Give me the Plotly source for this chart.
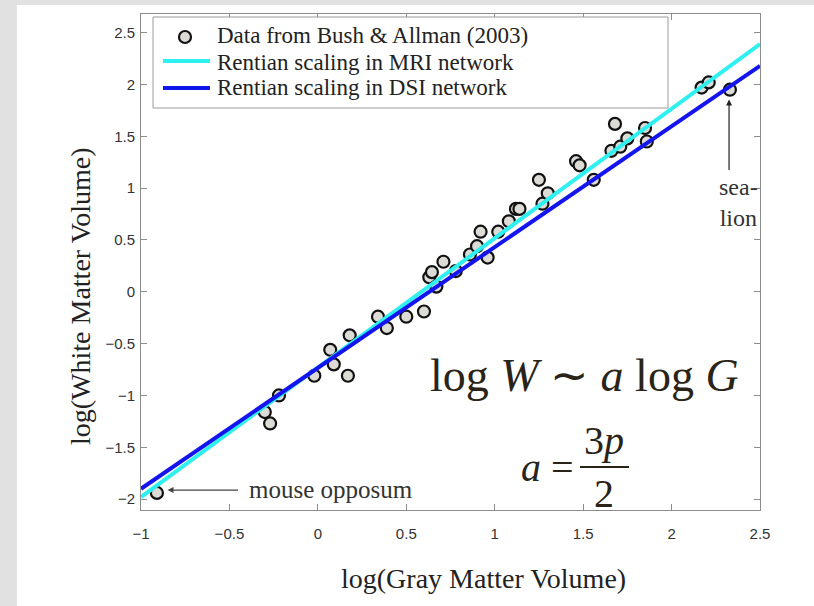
import plotly.graph_objects as go

# ---- data ----
gm = [-0.91, -0.30, -0.27, -0.22, -0.02, 0.07, 0.09, 0.17, 0.18, 0.34, 0.39, 0.50, 0.60,
      0.63, 0.645, 0.67, 0.71, 0.78, 0.86, 0.90, 0.92, 0.96, 1.02, 1.08, 1.12, 1.14, 1.27,
      1.30, 1.25, 1.46, 1.48, 1.56, 1.68, 1.66, 1.71, 1.75, 1.85, 1.86, 2.17, 2.21, 2.33]
wm = [-1.94, -1.16, -1.27, -1.00, -0.81, -0.56, -0.70, -0.81, -0.42, -0.24, -0.35, -0.24, -0.19,
      0.14, 0.19, 0.05, 0.29, 0.20, 0.36, 0.44, 0.58, 0.33, 0.58, 0.68, 0.80, 0.80, 0.85,
      0.95, 1.08, 1.26, 1.22, 1.08, 1.62, 1.36, 1.40, 1.48, 1.58, 1.45, 1.97, 2.02, 1.95]
fit_x = [-1.0, 2.5]
mri_y = [-1.98, 2.39]
dsi_y = [-1.90, 2.18]

legend_labels = ["Data from Bush & Allman (2003)",
                 "Rentian scaling in MRI network",
                 "Rentian scaling in DSI network"]
x_ticks = [-1, -0.5, 0, 0.5, 1, 1.5, 2, 2.5]
y_ticks = [-2, -1.5, -1, -0.5, 0, 0.5, 1, 1.5, 2, 2.5]

# ---- layout geometry (pixels) ----
W_FIG, H_FIG = 814, 606
L, R, T, B = 141, 760, 14, 510
def px(x):
    return (x - L) / (R - L)
def py(y):
    return (B - y) / (B - T)

SERIF = "Liberation Serif, Times New Roman, serif"
SANS = "Liberation Sans, Arial, sans-serif"
CYAN = "#2ff0f0"
BLUE = "#1414ee"
EQ = "#2a2418"

fig = go.Figure()
fig.add_trace(go.Scatter(x=gm, y=wm, mode="markers", name=legend_labels[0],
                         marker=dict(size=12, color="#dcdbd6",
                                     line=dict(color="#111111", width=2.2)),
                         showlegend=False))
fig.add_trace(go.Scatter(x=fit_x, y=mri_y, mode="lines", name=legend_labels[1],
                         line=dict(color=CYAN, width=4), showlegend=False))
fig.add_trace(go.Scatter(x=fit_x, y=dsi_y, mode="lines", name=legend_labels[2],
                         line=dict(color=BLUE, width=4), showlegend=False))

shapes = []
# grey page edges
shapes.append(dict(type="rect", xref="paper", yref="paper", layer="below",
                   x0=px(0), x1=px(17), y0=py(W_FIG), y1=py(0),
                   fillcolor="#e1e1e1", line=dict(width=0)))
shapes.append(dict(type="rect", xref="paper", yref="paper", layer="below",
                   x0=px(0), x1=px(W_FIG), y0=py(5), y1=py(0),
                   fillcolor="#e1e1e1", line=dict(width=0)))
# legend box
shapes.append(dict(type="rect", xref="paper", yref="paper", layer="above",
                   x0=px(153), x1=px(668), y0=py(108), y1=py(17),
                   fillcolor="white", line=dict(color="#9a9a9a", width=1)))
shapes.append(dict(type="circle", xref="paper", yref="paper", layer="above",
                   x0=px(179), x1=px(191), y0=py(43), y1=py(31),
                   fillcolor="#dcdbd6", line=dict(color="#111111", width=2.2)))
shapes.append(dict(type="line", xref="paper", yref="paper", layer="above",
                   x0=px(163), x1=px(210), y0=py(61), y1=py(61),
                   line=dict(color=CYAN, width=4)))
shapes.append(dict(type="line", xref="paper", yref="paper", layer="above",
                   x0=px(163), x1=px(210), y0=py(88), y1=py(88),
                   line=dict(color=BLUE, width=4)))
# fraction bar
shapes.append(dict(type="line", xref="paper", yref="paper", layer="above",
                   x0=px(580), x1=px(629), y0=py(467), y1=py(467),
                   line=dict(color=EQ, width=2)))

ann = []
for lab, yy in zip(legend_labels, [36, 62, 88]):
    ann.append(dict(text=lab, xref="paper", yref="paper", x=px(216), y=py(yy),
                    xanchor="left", yanchor="middle", showarrow=False, borderpad=0,
                    font=dict(family=SERIF, size=23, color="#222222")))
# mouse opposum
ann.append(dict(text="mouse opposum", xref="paper", yref="paper", x=px(247), y=py(489),
                xanchor="left", yanchor="middle", showarrow=False,
                font=dict(family=SERIF, size=25, color="#333333")))
ann.append(dict(text="", x=-0.85, y=-1.913, xref="x", yref="y", ax=72, ay=0,
                showarrow=True, arrowhead=2, arrowsize=1, arrowwidth=1.2,
                arrowcolor="#444444"))
# sea lion
ann.append(dict(text="sea-<br>lion", xref="paper", yref="paper", x=px(738), y=py(202),
                xanchor="center", yanchor="middle", showarrow=False, align="center",
                font=dict(family=SERIF, size=24, color="#333333")))
ann.append(dict(text="", x=2.325, y=1.855, xref="x", yref="y", ax=0, ay=72,
                showarrow=True, arrowhead=2, arrowsize=1, arrowwidth=1.2,
                arrowcolor="#222222"))
# equations
ann.append(dict(text="log <i>W</i> ∼ <i>a</i> log <i>G</i>", xref="paper", yref="paper",
                x=px(584), y=py(375), xanchor="center", yanchor="middle", showarrow=False,
                font=dict(family=SERIF, size=46, color=EQ)))
ann.append(dict(text="<i>a</i> =", xref="paper", yref="paper",
                x=px(576), y=py(467), xanchor="right", yanchor="middle", showarrow=False,
                font=dict(family=SERIF, size=40, color=EQ)))
ann.append(dict(text="3<i>p</i>", xref="paper", yref="paper",
                x=px(604), y=py(440), xanchor="center", yanchor="middle", showarrow=False,
                font=dict(family=SERIF, size=40, color=EQ)))
ann.append(dict(text="2", xref="paper", yref="paper",
                x=px(604), y=py(493), xanchor="center", yanchor="middle", showarrow=False,
                font=dict(family=SERIF, size=40, color=EQ)))
# axis titles
ann.append(dict(text="log(White Matter Volume)", xref="paper", yref="paper",
                x=px(80), y=py(296), xanchor="center", yanchor="middle", showarrow=False,
                textangle=-90, font=dict(family=SERIF, size=28, color="#222222")))
ann.append(dict(text="log(Gray Matter Volume)", xref="paper", yref="paper",
                x=px(483), y=py(578), xanchor="center", yanchor="middle", showarrow=False,
                font=dict(family=SERIF, size=28, color="#222222")))

axis_common = dict(showline=True, linecolor="#8c8c8c", linewidth=1, mirror="ticks",
                   ticks="inside", ticklen=6, tickcolor="#8c8c8c", showgrid=False,
                   zeroline=False, tickfont=dict(family=SANS, size=15, color="#333333"))

fig.update_layout(
    width=W_FIG, height=H_FIG,
    margin=dict(l=L, r=W_FIG - R, t=T, b=H_FIG - B),
    paper_bgcolor="white", plot_bgcolor="white",
    showlegend=False,
    shapes=shapes, annotations=ann,
    xaxis=dict(range=[-1, 2.5], tickvals=x_ticks, ticklabelstandoff=10, **axis_common),
    yaxis=dict(range=[-2.105, 2.68], tickvals=y_ticks, ticklabelstandoff=2, **axis_common),
)

fig.write_html("out.html")
